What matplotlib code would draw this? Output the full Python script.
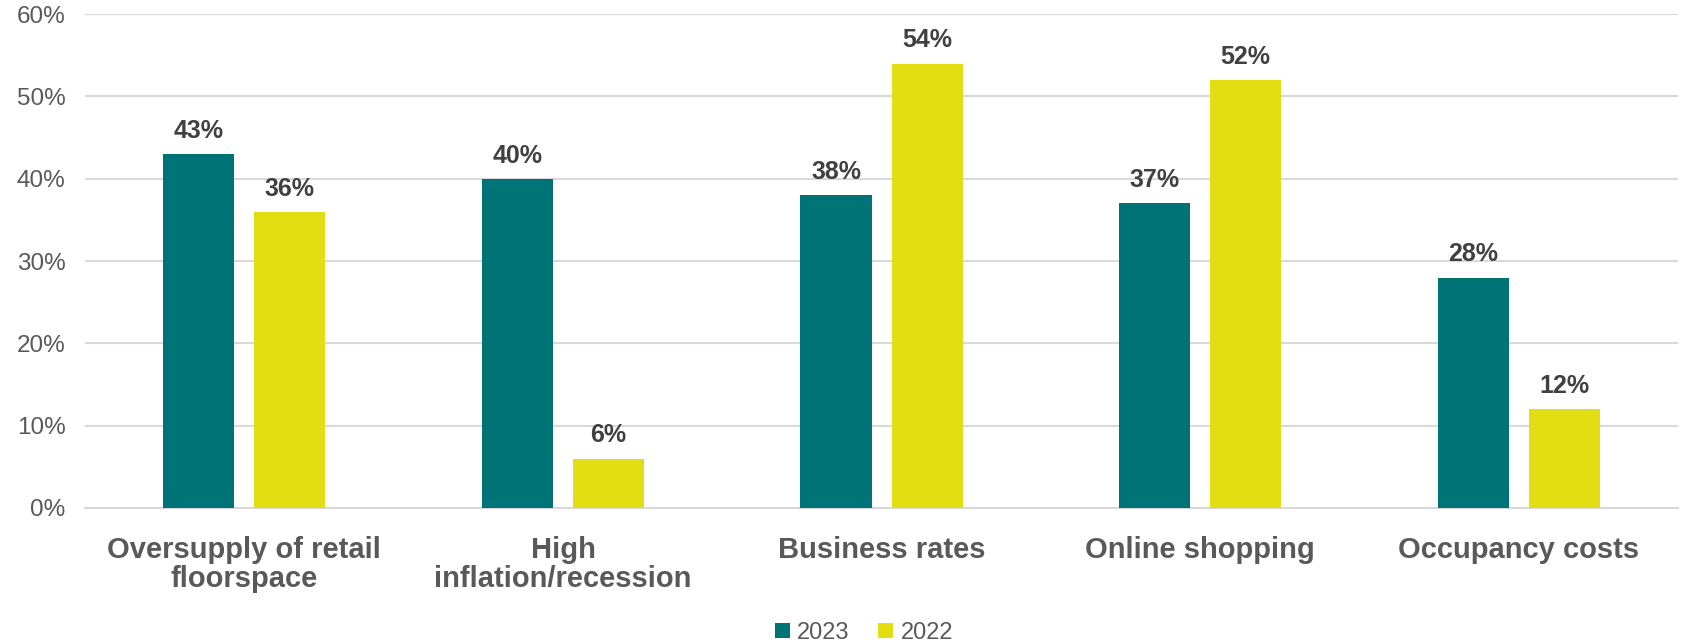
import matplotlib.pyplot as plt
import numpy as np

categories = ["Oversupply of retail\nfloorspace", "High\ninflation/recession",
              "Business rates", "Online shopping", "Occupancy costs"]
vals_2023 = [43, 40, 38, 37, 28]
vals_2022 = [36, 6, 54, 52, 12]
yticks = [0, 10, 20, 30, 40, 50, 60]

TEAL = "#007377"
YELLOW = "#E3DE12"
GRID = "#D9D9D9"

plt.rcParams["font.family"] = ["Liberation Sans", "DejaVu Sans"]

fig = plt.figure(figsize=(16.84, 6.43), dpi=100)
ax = fig.add_axes([0.0505, 0.21, 0.946, 0.768])

x = np.arange(len(categories))
w = 0.223
off = (w + 0.063) / 2
b1 = ax.bar(x - off, vals_2023, w, color=TEAL, label="2023", zorder=3)
b2 = ax.bar(x + off, vals_2022, w, color=YELLOW, label="2022", zorder=3)

for bars in (b1, b2):
    ax.bar_label(bars, labels=[f"{v}%" for v in bars.datavalues], padding=8,
                 fontsize=18, fontweight="bold", color="#404040")

ax.set_xlim(-0.5, len(categories) - 0.5)
ax.set_ylim(0, 60)
ax.set_yticks(yticks)
ax.set_yticklabels([f"{t}%" for t in yticks], fontsize=17.5, color="#595959")
ax.set_xticks(x)
ax.set_xticklabels(categories, fontsize=21, fontweight="bold", color="#595959",
                   linespacing=1.05)
ax.tick_params(axis="both", length=0)
ax.tick_params(axis="x", pad=20)
ax.tick_params(axis="y", pad=14)
ax.yaxis.grid(True, color=GRID, linewidth=1.5, zorder=0)
for s in ("top", "right", "left"):
    ax.spines[s].set_visible(False)
ax.spines["bottom"].set_color(GRID)
ax.spines["bottom"].set_linewidth(1.5)

fig.legend(handles=[b1, b2], labels=["2023", "2022"], loc="center",
           bbox_to_anchor=(0.513, 0.016), ncol=2, frameon=False, fontsize=17,
           handlelength=0.65, handleheight=0.65, handletextpad=0.3,
           columnspacing=1.2, labelcolor="#595959")

fig.savefig("out.png", dpi=100)
